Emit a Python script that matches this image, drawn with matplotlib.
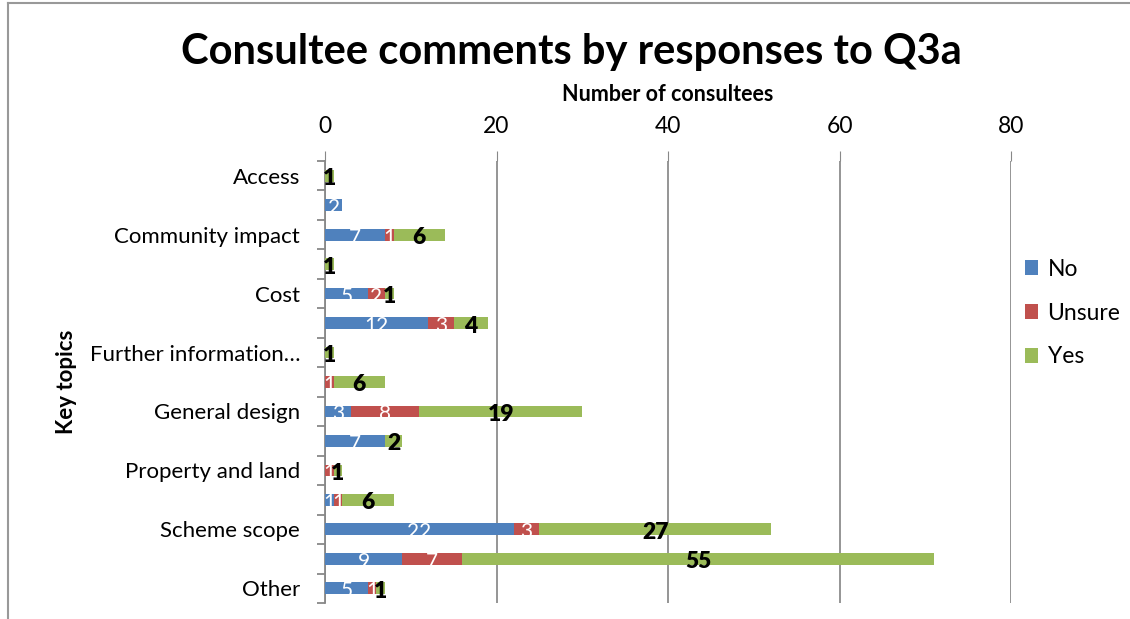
import numpy as np
import matplotlib.pyplot as plt
from matplotlib.lines import Line2D
from matplotlib.patches import Patch

plt.rcParams['font.family'] = ['Lato', 'DejaVu Sans']

# rows top to bottom; only every other row carries a visible label
topics = ["Access", "Community impact", "Cost", "Further information\u2026",
          "General design", "Property and land", "Scheme scope", "Other"]
no_vals = [0, 2, 7, 0, 5, 12, 0, 0, 3, 7, 0, 1, 22, 9, 5]
unsure_vals = [0, 0, 1, 0, 2, 3, 0, 1, 8, 0, 1, 1, 3, 7, 1]
yes_vals = [1, 0, 6, 1, 1, 4, 1, 6, 19, 2, 1, 6, 27, 55, 1]
series = ["No", "Unsure", "Yes"]
colors = ["#4F81BD", "#C0504D", "#9BBB59"]

W, H = 1130, 619
fig = plt.figure(figsize=(W / 100, H / 100), dpi=100)

# plot area in pixels: left 325, right 1011, top 161, bottom 603
ax = fig.add_axes([325 / W, 1 - 603 / H, 686 / W, 442 / H])

n = len(no_vals)
y = np.arange(n)
left = np.zeros(n)
for name, vals, col in zip(series, [no_vals, unsure_vals, yes_vals], colors):
    vals = np.array(vals, dtype=float)
    ax.barh(y, vals, left=left, height=0.4, color=col, label=name, zorder=3)
    for yi, v, l in zip(y, vals, left):
        if v == 0:
            continue
        if name == "Yes":
            ax.text(l + v / 2, yi + 0.1, f"{int(v)}", ha="center", va="center",
                    fontsize=16.5, fontweight="heavy", color="black", zorder=4)
        else:
            ax.text(l + v / 2, yi + 0.1, f"{int(v)}", ha="center", va="center",
                    fontsize=15, color="white", zorder=4)
    left += vals

ax.set_xlim(0, 80)
ax.set_ylim(n - 0.5, -0.5)

ax.xaxis.tick_top()
ax.set_xticks([0, 20, 40, 60, 80])
ax.tick_params(axis="x", length=7, color="#888888", pad=10, labelsize=16.5)
ax.grid(axis="x", color="#8c8c8c", linewidth=1.3, zorder=0)
ax.xaxis.set_label_position("top")
ax.set_xlabel("Number of consultees", fontsize=15.5, fontweight="bold")
ax.xaxis.set_label_coords(0.5, 1.135)

ax.set_yticks(y[::2])
ax.set_yticklabels(topics)
ax.set_yticks(np.arange(-0.5, n, 1), minor=True)
ax.tick_params(axis="y", which="major", length=0, pad=18, labelsize=16)
ax.tick_params(axis="y", which="minor", length=6, color="#888888", width=1.3)
ax.set_ylabel("Key topics", fontsize=16, fontweight="bold")
ax.yaxis.set_label_coords(-0.362, 0.5)

for s in ["top", "right", "bottom"]:
    ax.spines[s].set_visible(False)
ax.spines["left"].set_color("#888888")
ax.spines["left"].set_linewidth(1.3)

handles = [Patch(facecolor=c, label=s) for s, c in zip(series, colors)]
fig.legend(handles=handles, loc="center left", bbox_to_anchor=(1004 / W, 1 - 313 / H),
           frameon=False, fontsize=16.5, handlelength=0.6, handleheight=0.6,
           handletextpad=0.4, labelspacing=1.0)

fig.text(571 / W, 1 - 52 / H, "Consultee comments by responses to Q3a",
         ha="center", va="center", fontsize=30, fontweight="bold")

# outer chart frame
fig.add_artist(Line2D([8 / W, 8 / W], [0, 1 - 3 / H], color="#999999", linewidth=1.5))
fig.add_artist(Line2D([8 / W, 1], [1 - 3 / H, 1 - 3 / H], color="#999999", linewidth=1.5))

fig.savefig("out.png", dpi=100)
